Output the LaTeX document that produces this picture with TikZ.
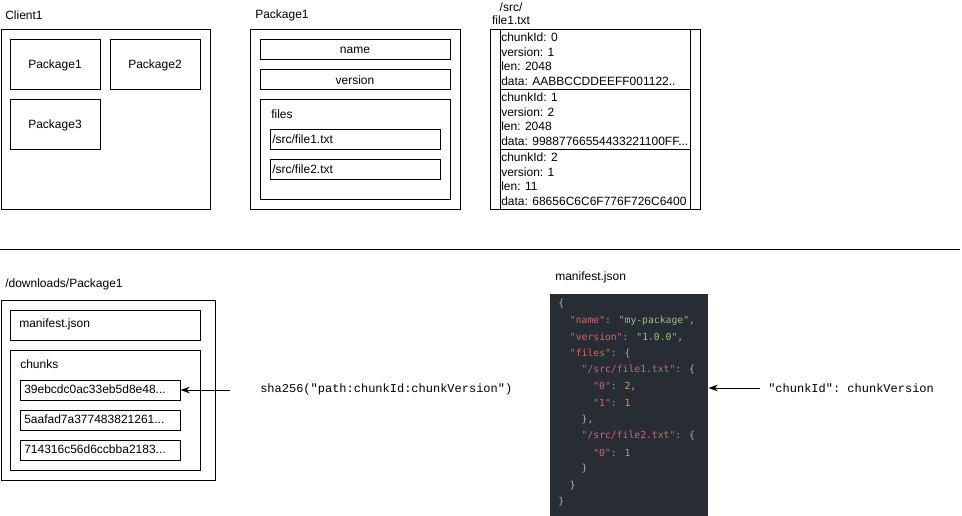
\documentclass[tikz,border=0pt]{standalone}
\usepackage{fontspec}
\setmainfont{Liberation Sans}
\setmonofont{Liberation Mono}
\newfontfamily\codefont{DejaVu Sans Mono}
\usetikzlibrary{arrows.meta}
\definecolor{codebg}{HTML}{282C34}
\definecolor{ckey}{HTML}{D0666F}
\definecolor{cstr}{HTML}{98C379}
\definecolor{cnum}{HTML}{D19A66}
\definecolor{cpun}{HTML}{ABB2BF}
\definecolor{ccol}{HTML}{56B6C2}
\newcommand{\ck}[1]{\textcolor{ckey}{#1}}
\newcommand{\cs}[1]{\textcolor{cstr}{#1}}
\newcommand{\cn}[1]{\textcolor{cnum}{#1}}
\newcommand{\cp}[1]{\textcolor{cpun}{#1}}
\newcommand{\cc}{\textcolor{ccol}{:}}
\begin{document}
\begin{tikzpicture}[x=0.75pt,y=-0.75pt,
  box/.style={draw=black,line width=0.75pt},
  lbl/.style={font=\fontsize{9}{11}\selectfont,inner sep=0pt,anchor=west},
  ctr/.style={font=\fontsize{9}{11}\selectfont,inner sep=0pt},
  rows/.style={inner sep=0pt,anchor=north west,align=left,font=\fontsize{9}{11}\selectfont},
  code/.style={font=\codefont\fontsize{7.3}{9}\selectfont,inner sep=0pt,anchor=west,text=cpun},
  arr/.style={line width=0.75pt,-{Stealth[length=7pt,width=5pt]}}]
\useasboundingbox (0,0) rectangle (962,516);
% ---- Client1
\node[lbl] (lclient) at (5,15) {Client1};
\draw[box] (1,30) rectangle (210,210);
\node[box,minimum width=90*0.75pt,minimum height=50*0.75pt,ctr] (p1) at (55,65) {Package1};
\node[box,minimum width=90*0.75pt,minimum height=50*0.75pt,ctr] (p2) at (155,65) {Package2};
\node[box,minimum width=90*0.75pt,minimum height=50*0.75pt,ctr] (p3) at (55,125) {Package3};
% ---- Package1
\node[lbl] (lpkg) at (255,15) {Package1};
\draw[box] (250,30) rectangle (460,210);
\node[box,minimum width=190*0.75pt,minimum height=20*0.75pt,ctr] (pname) at (355,50) {name};
\node[box,minimum width=190*0.75pt,minimum height=20*0.75pt,ctr] (pver) at (355,80) {version};
\draw[box] (260,100) rectangle (450,200);
\node[lbl] (lfiles) at (271,114) {files};
\draw[box] (270,130) rectangle (440,150);
\node[lbl] (f1) at (272,139) {/src/file1.txt};
\draw[box] (270,160) rectangle (440,180);
\node[lbl] (f2) at (272,169) {/src/file2.txt};
% ---- file1.txt table
\node[ctr,align=center,font=\fontsize{9}{10}\selectfont] (lsrc) at (511,14) {/src/\\file1.txt};
\draw[box] (490,30) rectangle (700,210);
\draw[box] (500,30) rectangle (690,90);
\draw[box] (500,90) rectangle (690,150);
\draw[box] (500,150) rectangle (690,210);
\node[rows] (r1) at (501,32.5)
  {chunkId: 0\\version: 1\\len: 2048\\data: AABBCCDDEEFF001122..};
\node[rows] (r2) at (501,92.5)
  {chunkId: 1\\version: 2\\len: 2048\\data: 99887766554433221100FF...};
\node[rows] (r3) at (501,152.5)
  {chunkId: 2\\version: 1\\len: 11\\data: 68656C6C6F776F726C6400};
% ---- separator
\draw[line width=0.75pt] (0,250) -- (960,250);
% ---- downloads
\node[lbl] (ldl) at (5,284) {/downloads/Package1};
\draw[box] (1,300) rectangle (215,480);
\draw[box] (10,310) rectangle (200,340);
\node[lbl] (mj) at (19,324) {manifest.json};
\draw[box] (10,350) rectangle (200,470);
\node[lbl] (lch) at (20,364) {chunks};
\node[box,minimum width=160*0.75pt,minimum height=20*0.75pt,inner sep=0pt] (c1) at (100,390) {};
\node[lbl] at (24,389) {39ebcdc0ac33eb5d8e48...};
\node[box,minimum width=160*0.75pt,minimum height=20*0.75pt,inner sep=0pt] (c2) at (100,420) {};
\node[lbl] at (24,419) {5aafad7a377483821261...};
\node[box,minimum width=160*0.75pt,minimum height=20*0.75pt,inner sep=0pt] (c3) at (100,450) {};
\node[lbl] at (24,449) {714316c56d6ccbba2183...};
\coordinate (a1) at (230,390);
\draw[arr] (a1) -- (c1.east);
\node[lbl,font=\ttfamily\fontsize{9}{11}\selectfont] (sha) at (260,389) {sha256("path:chunkId:chunkVersion")};
% ---- manifest code
\node[lbl] (lman) at (555,277) {manifest.json};
\node[fill=codebg,draw=none,minimum width=158*0.75pt,minimum height=222*0.75pt,inner sep=0pt,anchor=north west] (cb) at (550,294) {};
\node[code] at (558,304) {\{};
\node[code] at (569.7,320.5) {\ck{"name"}\cc{} \cs{"my-package"},};
\node[code] at (569.7,337) {\ck{"version"}\cc{} \cs{"1.0.0"},};
\node[code] at (569.7,353.5) {\ck{"files"}\cc{} \{};
\node[code] at (581.4,370) {\ck{"/src/file1.txt"}\cc{} \{};
\node[code] at (593.1,386.5) {\ck{"0"}\cc{} \cn{2},};
\node[code] at (593.1,403) {\ck{"1"}\cc{} \cn{1}};
\node[code] at (581.4,419.5) {\},};
\node[code] at (581.4,436) {\ck{"/src/file2.txt"}\cc{} \{};
\node[code] at (593.1,452.5) {\ck{"0"}\cc{} \cn{1}};
\node[code] at (581.4,469) {\}};
\node[code] at (569.7,485.5) {\}};
\node[code] at (558,502) {\}};
\coordinate (a2) at (760,388);
\draw[arr] (a2) -- (cb.east |- a2);
\node[lbl,font=\ttfamily\fontsize{9}{11}\selectfont] (cv) at (768,388) {"chunkId": chunkVersion};
\end{tikzpicture}
\end{document}
